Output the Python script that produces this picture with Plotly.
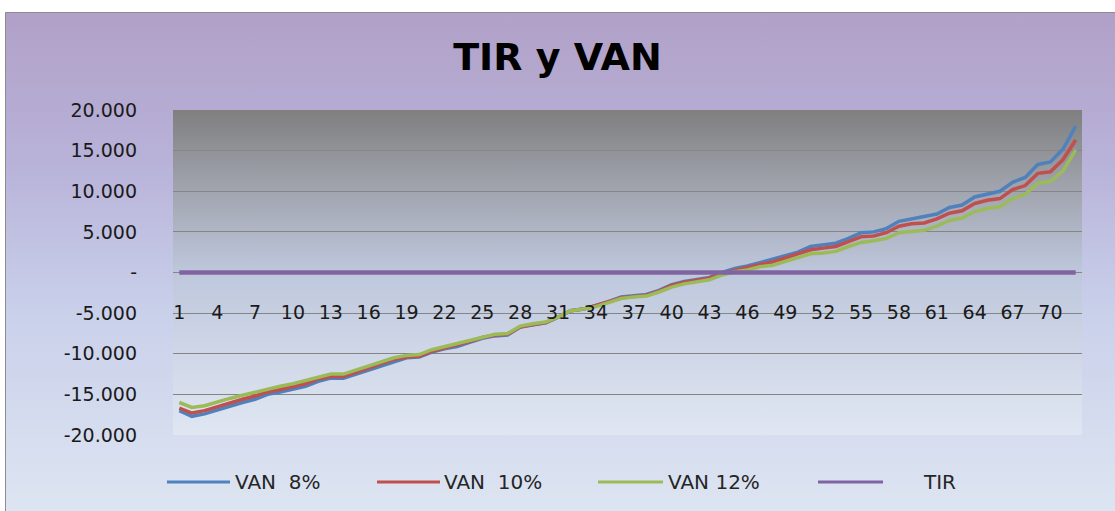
import base64
import plotly.graph_objects as go

# ---------------- data ----------------
categories = [str(i) for i in range(1, 73)]

van8 = [-17000, -17700, -17400, -16900, -16400, -16000, -15600, -15000, -14700, -14400,
        -14000, -13400, -13000, -13000, -12500, -12000, -11500, -10900, -10500, -10400,
        -9800, -9400, -9100, -8600, -8100, -7800, -7700, -6700, -6400, -6200,
        -5500, -4700, -4500, -4100, -3600, -3000, -2800, -2700, -2200, -1500,
        -1100, -900, -600, 0, 500, 800, 1200, 1600, 2100, 2500,
        3200, 3400, 3600, 4200, 4900, 5000, 5400, 6300, 6600, 6800,
        7200, 8000, 8300, 9300, 9700, 10000, 11100, 11700, 13300, 13600,
        15200, 18000]

van10 = [-16700, -17300, -17000, -16500, -16000, -15600, -15200, -14700, -14400, -14100,
         -13700, -13100, -12800, -12800, -12300, -11800, -11300, -10700, -10400, -10300,
         -9700, -9300, -9000, -8500, -8000, -7700, -7600, -6700, -6400, -6200,
         -5500, -4700, -4500, -4100, -3600, -3100, -2900, -2800, -2300, -1600,
         -1200, -1000, -700, -100, 300, 600, 1000, 1300, 1800, 2200,
         2800, 3000, 3200, 3800, 4400, 4500, 4900, 5700, 6000, 6100,
         6600, 7300, 7600, 8500, 8900, 9100, 10200, 10700, 12200, 12400,
         13900, 16300]

van12 = [-16000, -16600, -16400, -15900, -15500, -15100, -14700, -14300, -14000, -13700,
         -13300, -12800, -12500, -12500, -12000, -11500, -11100, -10500, -10200, -10100,
         -9500, -9100, -8800, -8300, -7900, -7600, -7500, -6600, -6300, -6100,
         -5500, -4700, -4500, -4200, -3700, -3200, -3000, -2900, -2400, -1800,
         -1400, -1200, -900, -300, 100, 300, 700, 900, 1400, 1800,
         2300, 2400, 2600, 3200, 3700, 3900, 4200, 4900, 5100, 5200,
         5700, 6400, 6700, 7500, 7900, 8100, 9100, 9600, 11000, 11200,
         12500, 15100]

tir = [0, 0, 0, 0, 0, 0, 0, 0, 0, 0, 0, 0, 0, 0, 0, 0, 0, 0, 0, 0, 0, 0, 0, 0,
       0, 0, 0, 0, 0, 0, 0, 0, 0, 0, 0, 0, 0, 0, 0, 0, 0, 0, 0, 0, 0, 0, 0, 0,
       0, 0, 0, 0, 0, 0, 0, 0, 0, 0, 0, 0, 0, 0, 0, 0, 0, 0, 0, 0, 0, 0, 0, 0]

series_names = ["VAN  8%", "VAN  10%", "VAN 12%", "TIR"]

x_tick_labels = ["1", "4", "7", "10", "13", "16", "19", "22", "25", "28", "31", "34",
                 "37", "40", "43", "46", "49", "52", "55", "58", "61", "64", "67", "70"]

y_tick_values = [-20000, -15000, -10000, -5000, 0, 5000, 10000, 15000, 20000]
y_tick_labels = ["-20.000", "-15.000", "-10.000", "-5.000", "-", "5.000", "10.000", "15.000", "20.000"]

title_text = "TIR y VAN"

# ---------------- styling / layout ----------------
W, H = 1115, 511
ML, MR, MT, MB = 173, 33, 110, 76
PW, PH = W - ML - MR, H - MT - MB

colors = ["#4f81bd", "#c0504d", "#9bbb59", "#8064a2"]
widths = [3.5, 3.5, 3.5, 4.5]


def px2x(px):
    return (px - ML) / PW


def py2y(py):
    return (MT + PH - py) / PH


def grad_uri(stops):
    st = "".join('<stop offset="%s" stop-color="%s"/>' % (o, c) for o, c in stops)
    svg = ('<svg xmlns="http://www.w3.org/2000/svg" width="100" height="100" '
           'preserveAspectRatio="none"><defs><linearGradient id="g" x1="0" y1="0" '
           'x2="0" y2="1">%s</linearGradient></defs><rect width="100" height="100" '
           'fill="url(#g)"/></svg>' % st)
    return "data:image/svg+xml;base64," + base64.b64encode(svg.encode()).decode()


outer_uri = grad_uri([(0, "#b1a0c7"), (0.3, "#b8b2d9"), (0.6, "#c9d0ea"), (1, "#dde5f2")])
plot_uri = grad_uri([(0, "#7f7f7f"), (0.22, "#9ea1aa"), (0.5, "#bec7dc"), (1, "#e0e7f3")])

fig = go.Figure()
for vals, name, col, w in zip([van8, van10, van12, tir], series_names, colors, widths):
    fig.add_trace(go.Scatter(x=categories, y=vals, mode="lines", name=name,
                             line=dict(color=col, width=w), showlegend=False,
                             hoverinfo="skip"))

shapes = [
    dict(type="rect", xref="paper", yref="paper",
         x0=px2x(5.5), y0=py2y(12.5), x1=px2x(1125), y1=py2y(525),
         line=dict(color="#8c8c8c", width=1), fillcolor="rgba(0,0,0,0)", layer="above"),
]
annotations = []
legend_line_x = [(167, 230), (377, 440), (598, 663), (818, 883)]
legend_text_x = [233, 442, 666, 921]
legend_y = 482
for (lx0, lx1), tx, name, col in zip(legend_line_x, legend_text_x, series_names, colors):
    shapes.append(dict(type="line", xref="paper", yref="paper",
                       x0=px2x(lx0), x1=px2x(lx1), y0=py2y(legend_y), y1=py2y(legend_y),
                       line=dict(color=col, width=3)))
    annotations.append(dict(xref="paper", yref="paper", x=px2x(tx), y=py2y(legend_y),
                            text=name, showarrow=False, xanchor="left", yanchor="middle",
                            font=dict(family="DejaVu Sans", size=20, color="#262626")))

fig.update_layout(
    width=W, height=H,
    margin=dict(l=ML, r=MR, t=MT, b=MB),
    paper_bgcolor="white",
    plot_bgcolor="rgba(0,0,0,0)",
    title=dict(text=title_text, x=0.5, xanchor="center", xref="container",
               y=1 - 57 / H, yanchor="middle", yref="container",
               font=dict(family="DejaVu Sans", size=38, color="#000000", weight="bold")),
    images=[
        dict(source=outer_uri, xref="paper", yref="paper", x=px2x(5), y=py2y(12),
             sizex=(W - 5) / PW, sizey=(H - 12) / PH, xanchor="left", yanchor="top",
             sizing="stretch", layer="below"),
        dict(source=plot_uri, xref="paper", yref="paper", x=0, y=1, sizex=1, sizey=1,
             xanchor="left", yanchor="top", sizing="stretch", layer="below"),
    ],
    xaxis=dict(type="category", range=[-0.5, 71.5], tickmode="array",
               tickvals=x_tick_labels, ticktext=x_tick_labels,
               showgrid=False, showline=False, zeroline=False, ticks="",
               anchor="free", position=0.42, tickangle=0,
               tickfont=dict(family="DejaVu Sans", size=19, color="#1a1a1a")),
    yaxis=dict(range=[-20000, 20000], tickmode="array", tickvals=y_tick_values,
               ticktext=y_tick_labels, showgrid=True, gridcolor="#858585", gridwidth=1,
               zeroline=False, showline=False, ticks="", ticklabelstandoff=35,
               tickfont=dict(family="DejaVu Sans", size=19, color="#1a1a1a")),
    shapes=shapes,
    annotations=annotations,
    showlegend=False,
)

fig.write_html("out.html", config={"displayModeBar": False},
               post_script="document.body.style.margin='0';")
